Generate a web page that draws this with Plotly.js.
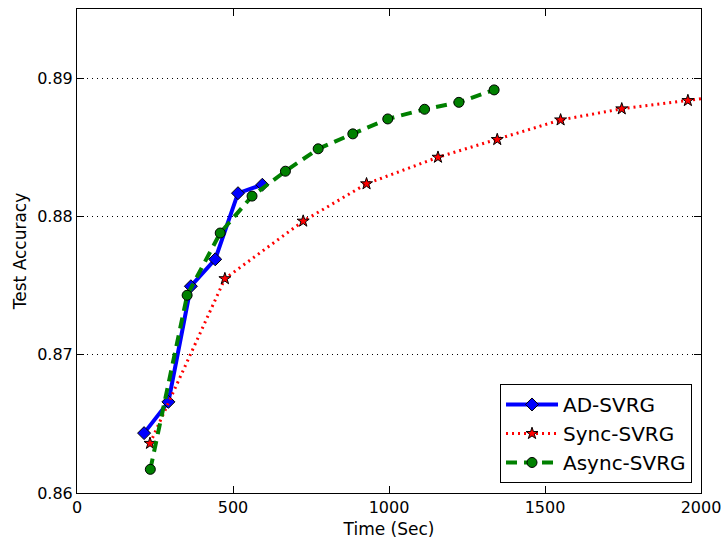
<!DOCTYPE html>
<html>
<head>
<meta charset="utf-8">
<script src="https://cdn.plot.ly/plotly-3.0.1.min.js"></script>
<style>html,body{margin:0;padding:0;background:#fff;}#chart{width:724px;height:544px;}</style>
</head>
<body>
<div id="chart"></div>
<script>
var adTime = [215, 293, 365, 443, 516, 594];
var adAcc  = [0.86433, 0.86659, 0.87495, 0.87690, 0.88168, 0.88229];

var syncTime = [234, 474, 725, 928, 1157, 1347, 1550, 1746, 1958, 2150];
var syncAcc  = [0.86359, 0.87550, 0.87966, 0.88236, 0.88428, 0.88556, 0.88698, 0.88778, 0.88838, 0.88895];

var asyncTime = [235, 353, 459, 561, 668, 773, 884, 996, 1114, 1224, 1337];
var asyncAcc  = [0.86171, 0.87430, 0.87880, 0.88147, 0.88327, 0.88489, 0.88597, 0.88705, 0.88775, 0.88825, 0.88915];

var xTicks = [0, 500, 1000, 1500, 2000];
var yTicks = [0.86, 0.87, 0.88, 0.89];
var yTickText = ["0.86", "0.87", "0.88", "0.89"];

var font = "DejaVu Sans, sans-serif";

var traces = [
  {
    x: adTime, y: adAcc, name: "AD-SVRG", mode: "lines+markers",
    line: {color: "#0000ff", width: 4},
    marker: {symbol: "diamond", size: 10, color: "#0000ff", line: {color: "#000", width: 1}}
  },
  {
    x: syncTime, y: syncAcc, name: "Sync-SVRG", mode: "lines+markers",
    line: {color: "#ff0000", width: 3, dash: "2px,4px"},
    marker: {symbol: "star", size: 9, color: "#ff0000", line: {color: "#000", width: 1}}
  },
  {
    x: asyncTime, y: asyncAcc, name: "Async-SVRG", mode: "lines+markers",
    line: {color: "#008000", width: 4, dash: "11px,7px"},
    marker: {symbol: "circle", size: 10, color: "#008000", line: {color: "#000", width: 1}}
  }
];

var layout = {
  width: 724, height: 544,
  margin: {l: 77, r: 23, t: 9, b: 51},
  paper_bgcolor: "#fff", plot_bgcolor: "#fff",
  font: {family: font, size: 16, color: "#000"},
  showlegend: true,
  legend: {
    x: 0.9856, y: 0.0207, xanchor: "right", yanchor: "bottom",
    bgcolor: "#fff", bordercolor: "#000", borderwidth: 1,
    itemwidth: 52,
    font: {family: font, size: 20, color: "#000"}
  },
  xaxis: {
    range: [0, 2000],
    tickvals: xTicks, ticktext: xTicks.map(String),
    ticks: "inside", ticklen: 7, tickcolor: "#000", tickwidth: 1,
    showline: true, linecolor: "#000", linewidth: 1, mirror: "ticks",
    showgrid: false, zeroline: false,
    tickfont: {family: font, size: 16, color: "#000"},
    title: {text: "Time (Sec)", font: {family: font, size: 17, color: "#000"}, standoff: 6}
  },
  yaxis: {
    range: [0.86, 0.895],
    tickvals: yTicks, ticktext: yTickText,
    ticks: "inside", ticklen: 7, tickcolor: "#000", tickwidth: 1,
    showline: true, linecolor: "#000", linewidth: 1, mirror: "ticks",
    showgrid: true, gridcolor: "#000", gridwidth: 1, griddash: "1px,4px",
    zeroline: false,
    tickfont: {family: font, size: 16, color: "#000"},
    title: {text: "Test Accuracy", font: {family: font, size: 17, color: "#000"}, standoff: 6}
  }
};

Plotly.newPlot("chart", traces, layout, {displayModeBar: false, staticPlot: true});
</script>
</body>
</html>
